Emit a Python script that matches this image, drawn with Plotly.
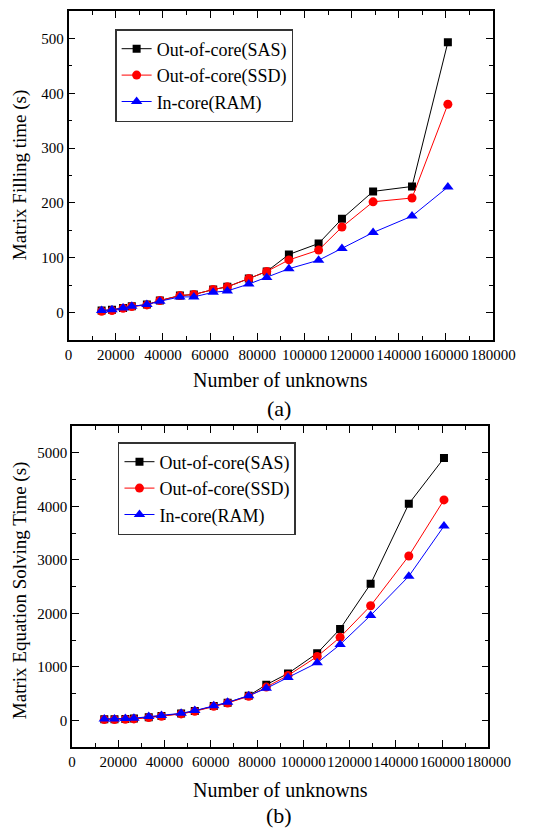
import plotly.graph_objects as go

# Data
unknowns = [14000, 18400, 23100, 26800, 33200, 38700, 47200, 53100, 61300,
            67300, 76400, 84000, 93400, 106000, 115900, 129100, 145600, 160800]

fill_sas = [3.6, 5, 8.5, 11.5, 14.6, 22, 31, 33, 42, 47, 62, 75, 106, 126, 171, 221, 230, 493]
fill_ssd = [2.4, 3.6, 8, 11, 14, 22, 31, 33, 42, 47, 62, 75, 96, 114, 156, 202, 209, 380]
fill_ram = [4, 5, 8.5, 11.5, 14.6, 20.7, 28.6, 28.6, 37, 39.5, 52, 64, 80, 95.5, 117, 146, 176, 229]

solve_sas = [19, 19, 25, 31, 56, 81, 124, 174, 267, 329, 459, 664, 875, 1253, 1706, 2550, 4045, 4900]
solve_ssd = [12, 12, 19, 25, 50, 74, 118, 167, 260, 323, 447, 620, 837, 1191, 1551, 2140, 3071, 4119]
solve_ram = [25, 25, 31, 37, 68, 87, 130, 180, 273, 335, 459, 596, 800, 1073, 1414, 1960, 2692, 3629]

names = ["Out-of-core(SAS)", "Out-of-core(SSD)", "In-core(RAM)"]
colors = ["#000000", "#ff0000", "#0000ff"]
symbols = ["square", "circle", "triangle-up"]
msizes = [8, 9, 10]

x_ticks = [0, 20000, 40000, 60000, 80000, 100000, 120000, 140000, 160000, 180000]
fill_ticks = [0, 100, 200, 300, 400, 500]
solve_ticks = [0, 1000, 2000, 3000, 4000, 5000]

W, H = 538, 829
FONT = "Liberation Serif, DejaVu Serif, serif"

fig = go.Figure()

for i, ys in enumerate([fill_sas, fill_ssd, fill_ram]):
    fig.add_trace(go.Scatter(
        x=unknowns, y=ys, name=names[i], mode="lines+markers",
        line=dict(color=colors[i], width=1),
        marker=dict(symbol=symbols[i], size=msizes[i], color=colors[i]),
        xaxis="x", yaxis="y", legend="legend"))

for i, ys in enumerate([solve_sas, solve_ssd, solve_ram]):
    fig.add_trace(go.Scatter(
        x=unknowns, y=ys, name=names[i], mode="lines+markers",
        line=dict(color=colors[i], width=1),
        marker=dict(symbol=symbols[i], size=msizes[i], color=colors[i]),
        xaxis="x2", yaxis="y2", legend="legend2"))

def px_x(a, b):
    return [a / W, b / W]

def px_y(top, bottom):
    return [1 - bottom / H, 1 - top / H]

axis_common = dict(
    showline=True, linecolor="black", linewidth=1.5, mirror="ticks",
    ticks="inside", ticklen=7, tickwidth=1.2, tickcolor="black",
    showgrid=False, zeroline=False, tickangle=0,
    tickfont=dict(family=FONT, size=15, color="black"),
)

legend_common = dict(
    xanchor="left", yanchor="top",
    bordercolor="#333", borderwidth=1.5, bgcolor="white",
    font=dict(family=FONT, size=18, color="black"),
    tracegroupgap=0, itemwidth=30,
)

fig.update_layout(
    width=W, height=H,
    margin=dict(l=0, r=0, t=0, b=0),
    paper_bgcolor="white", plot_bgcolor="white",
    font=dict(family=FONT, color="black"),
    xaxis=dict(domain=px_x(68, 515), range=[0, 180000], anchor="y",
               tickvals=x_ticks, ticktext=[str(v) for v in x_ticks],
               minor=dict(dtick=10000, ticks="inside", ticklen=4, tickcolor="black"),
               **axis_common),
    yaxis=dict(domain=px_y(11, 340), range=[-50, 550], anchor="x",
               tickvals=fill_ticks, ticktext=[str(v) for v in fill_ticks],
               minor=dict(dtick=50, ticks="inside", ticklen=4, tickcolor="black"),
               **axis_common),
    xaxis2=dict(domain=px_x(71.5, 510), range=[0, 180000], anchor="y2",
                tickvals=x_ticks, ticktext=[str(v) for v in x_ticks],
                minor=dict(dtick=10000, ticks="inside", ticklen=4, tickcolor="black"),
                **axis_common),
    yaxis2=dict(domain=px_y(426, 747), range=[-500, 5500], anchor="x2",
                tickvals=solve_ticks, ticktext=[str(v) for v in solve_ticks],
                minor=dict(dtick=500, ticks="inside", ticklen=4, tickcolor="black"),
                **axis_common),
    legend=dict(x=117 / W, y=1 - 29 / H, **legend_common),
    legend2=dict(x=120 / W, y=1 - 442 / H, **legend_common),
    showlegend=True,
)

ann_font = dict(family=FONT, size=20, color="black")
fig.add_annotation(text="Number of unknowns", x=291 / W, y=1 - 380 / H, xref="paper", yref="paper",
                   showarrow=False, font=ann_font, xanchor="center", yanchor="middle")
fig.add_annotation(text="(a)", x=290 / W, y=1 - 408 / H, xref="paper", yref="paper",
                   showarrow=False, font=dict(family=FONT, size=22, color="black"),
                   xanchor="center", yanchor="middle")
fig.add_annotation(text="Number of unknowns", x=291 / W, y=1 - 790 / H, xref="paper", yref="paper",
                   showarrow=False, font=ann_font, xanchor="center", yanchor="middle")
fig.add_annotation(text="(b)", x=290 / W, y=1 - 815 / H, xref="paper", yref="paper",
                   showarrow=False, font=dict(family=FONT, size=22, color="black"),
                   xanchor="center", yanchor="middle")
fig.add_annotation(text="Matrix Filling time (s)", x=17 / W, y=1 - 175 / H, xref="paper", yref="paper",
                   showarrow=False, font=dict(family=FONT, size=19, color="black"), textangle=-90,
                   xanchor="center", yanchor="middle")
fig.add_annotation(text="Matrix Equation Solving Time (s)", x=17 / W, y=1 - 590 / H, xref="paper", yref="paper",
                   showarrow=False, font=dict(family=FONT, size=19, color="black"), textangle=-90,
                   xanchor="center", yanchor="middle")

fig.write_html("out.html")
